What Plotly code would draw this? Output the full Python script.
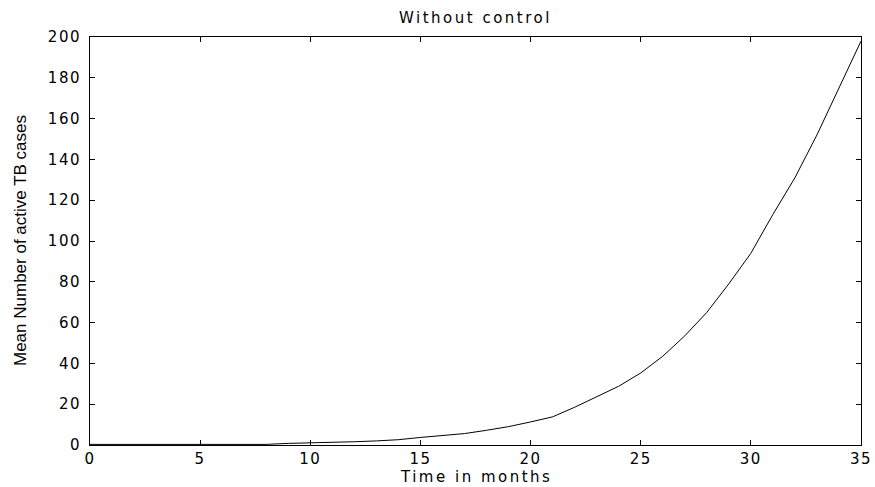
import plotly.graph_objects as go

months = list(range(0, 36))
mean_active_tb = [0.3, 0.3, 0.3, 0.3, 0.3, 0.3, 0.3, 0.3, 0.3, 0.8,
                  1.0, 1.5, 1.6, 2.0, 2.6, 3.7, 4.5, 5.6, 7.2, 9.0,
                  11.3, 13.8, 18.5, 23.5, 28.8, 35.3, 43.5, 53.5, 65.0, 79.0,
                  94.0, 113.0, 131.0, 152.0, 175.0, 198.0]

x_ticks = [0, 5, 10, 15, 20, 25, 30, 35]
y_ticks = [0, 20, 40, 60, 80, 100, 120, 140, 160, 180, 200]

title_text = "Without control"
x_title = "Time in months"
y_title = "Mean Number of active TB cases"

W, H = 875, 487
L, R, T, B = 90, 14, 37, 42
PW, PH = W - L - R, H - T - B

WIDE = "DejaVu Sans, Liberation Sans, sans-serif"


def spaced(s, px):
    return '<span style="letter-spacing:%spx">%s</span>' % (px, s)


fig = go.Figure()
fig.add_trace(go.Scatter(x=months, y=mean_active_tb, mode="lines",
                         line=dict(color="black", width=1), showlegend=False,
                         hoverinfo="skip"))

tick_font = dict(family=WIDE, size=15, color="black")

fig.update_layout(
    template="none",
    width=W, height=H,
    margin=dict(l=L, r=R, t=T, b=B, pad=0, autoexpand=False),
    paper_bgcolor="white", plot_bgcolor="white",
    showlegend=False,
)

fig.update_xaxes(range=[0, 35], tickvals=x_ticks, ticktext=[spaced(v, 1.5) for v in x_ticks],
                 showgrid=False, zeroline=False, showline=True, linecolor="black",
                 linewidth=1, mirror="ticks", ticks="inside", ticklen=5,
                 tickcolor="black", tickfont=tick_font, automargin=False)
fig.update_yaxes(range=[0, 200], tickvals=y_ticks, ticktext=[spaced(v, 1.5) for v in y_ticks],
                 showgrid=False, zeroline=False, showline=True, linecolor="black",
                 linewidth=1, mirror="ticks", ticks="inside", ticklen=5,
                 tickcolor="black", tickfont=tick_font, automargin=False,
                 ticklabelstandoff=5)

fig.add_annotation(text=spaced(title_text, 2.5), xref="paper", yref="paper",
                   x=0.5, y=1 + (T - 18) / PH, xanchor="center", yanchor="middle",
                   showarrow=False, borderpad=0,
                   font=dict(family=WIDE, size=15, color="black"))
fig.add_annotation(text=spaced(x_title, 2.5), xref="paper", yref="paper",
                   x=0.5, y=-B / PH, xanchor="center", yanchor="bottom",
                   showarrow=False, borderpad=0,
                   font=dict(family=WIDE, size=15, color="black"))
fig.add_annotation(text=y_title, xref="paper", yref="paper",
                   x=-(L - 20) / PW, y=0.5, xanchor="center", yanchor="middle",
                   textangle=-90, showarrow=False, borderpad=0,
                   font=dict(family="Liberation Sans, Arial, sans-serif", size=17, color="black"))

fig.write_html("out.html", config={"displayModeBar": False},
               post_script="document.body.style.margin='0';document.body.style.padding='0';")
